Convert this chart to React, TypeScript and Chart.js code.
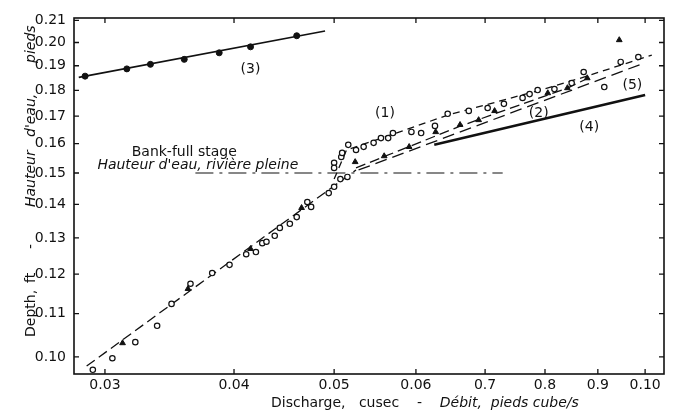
import React, { useEffect, useRef } from "react";
import { Chart, registerables } from "chart.js";

Chart.register(...registerables);

// ---- axis ticks ----
const xTicks = [0.03, 0.04, 0.05, 0.06, 0.07, 0.08, 0.09, 0.1];
const xTickLabels = ["0.03", "0.04", "0.05", "0.06", "0.7", "0.8", "0.9", "0.10"];
const yTicks = [0.1, 0.11, 0.12, 0.13, 0.14, 0.15, 0.16, 0.17, 0.18, 0.19, 0.2, 0.21];
const yTickLabels = ["0.10", "0.11", "0.12", "0.13", "0.14", "0.15", "0.16", "0.17", "0.18", "0.19", "0.20", "0.21"];

// ---- open circles ----
const circleX = [0.0292, 0.0305, 0.0321, 0.0337, 0.0348, 0.0363, 0.0381, 0.0396, 0.0411, 0.042, 0.0426, 0.043,
  0.0438, 0.0443, 0.0453, 0.046, 0.0471, 0.0475, 0.0494, 0.05, 0.0507, 0.0515, 0.05, 0.05, 0.0508, 0.0509,
  0.0516, 0.0525, 0.0534, 0.0546, 0.0555, 0.0564, 0.057, 0.0594, 0.0607, 0.0626, 0.0644, 0.0675, 0.0704,
  0.073, 0.0761, 0.0773, 0.0787, 0.0817, 0.0849, 0.0872, 0.0913, 0.0947, 0.0985];
const circleY = [0.0972, 0.0997, 0.1033, 0.1071, 0.1124, 0.1175, 0.1203, 0.1225, 0.1254, 0.126, 0.1285, 0.1289,
  0.1306, 0.1329, 0.1341, 0.1361, 0.1407, 0.1392, 0.1435, 0.1455, 0.148, 0.1487, 0.1534, 0.1517, 0.1554, 0.1568,
  0.1596, 0.1578, 0.1589, 0.1603, 0.162, 0.162, 0.1638, 0.1642, 0.1638, 0.1664, 0.1709, 0.172, 0.1731,
  0.1747, 0.177, 0.1785, 0.1801, 0.1805, 0.1829, 0.1874, 0.1813, 0.1916, 0.1937];

// ---- triangles ----
const triX = [0.0312, 0.0361, 0.0415, 0.0465, 0.0524, 0.0559, 0.0591, 0.0627, 0.0662, 0.069, 0.0715, 0.0805, 0.0841, 0.0879, 0.0944];
const triY = [0.1031, 0.1162, 0.1269, 0.1389, 0.1537, 0.1557, 0.1589, 0.1642, 0.1668, 0.1686, 0.172, 0.1789, 0.1809, 0.1849, 0.2011];

// ---- filled dots, curve (3) ----
const dotX = [0.0287, 0.0315, 0.0332, 0.0358, 0.0387, 0.0415, 0.046];
const dotY = [0.1857, 0.1887, 0.1906, 0.1927, 0.1955, 0.1981, 0.203];

// ---- fitted curves ----
const curve3X = [0.0283, 0.049];
const curve3Y = [0.1852, 0.2051];
const lowerX = [0.0288, 0.0525];
const lowerY = [0.098, 0.151];
const curve1X = [0.05, 0.0514, 0.057, 0.0644, 0.0792, 0.086, 0.1015];
const curve1Y = [0.148, 0.1578, 0.1634, 0.1704, 0.1801, 0.1845, 0.1945];
const curve2X = [0.0525, 0.0663, 0.0841, 0.0885];
const curve2Y = [0.1517, 0.1664, 0.1809, 0.1853];
const curve5X = [0.0528, 0.0996];
const curve5Y = [0.151, 0.191];
const curve4X = [0.0625, 0.1];
const curve4Y = [0.1596, 0.1781];
const bankX = [0.0367, 0.0728];
const bankY = [0.15, 0.15];

// ---- in-plot labels ----
const noteText = ["(1)", "(2)", "(3)", "(4)", "(5)", "Bank-full stage", "Hauteur d'eau, rivière pleine"];
const noteX = [0.056, 0.0789, 0.0415, 0.0883, 0.0972, 0.0358, 0.0369];
const noteY = [0.1709, 0.1712, 0.1887, 0.166, 0.1821, 0.1571, 0.1527];
const noteItalic = [false, false, false, false, false, false, true];

const FONT = "'DejaVu Sans', sans-serif";
const INK = "#111";

const pts = (xs: number[], ys: number[]) => xs.map((x, i) => ({ x, y: ys[i] }));

export default function App() {
  const ref = useRef<HTMLCanvasElement>(null);

  useEffect(() => {
    const canvas = ref.current;
    if (!canvas) return;

    const framePlugin = {
      id: "frame",
      afterDraw(chart: any) {
        const { ctx, chartArea: a, scales } = chart;
        ctx.save();
        ctx.strokeStyle = INK;
        ctx.lineWidth = 1.6;
        ctx.strokeRect(a.left, a.top, a.right - a.left, a.bottom - a.top);
        ctx.lineWidth = 1.3;
        ctx.beginPath();
        xTicks.forEach((v) => {
          const px = scales.x.getPixelForValue(v);
          ctx.moveTo(px, a.bottom);
          ctx.lineTo(px, a.bottom - 5);
          ctx.moveTo(px, a.top);
          ctx.lineTo(px, a.top + 5);
        });
        yTicks.forEach((v) => {
          const py = scales.y.getPixelForValue(v);
          ctx.moveTo(a.left, py);
          ctx.lineTo(a.left + 5, py);
          ctx.moveTo(a.right, py);
          ctx.lineTo(a.right - 5, py);
        });
        ctx.stroke();

        // in-plot notes
        ctx.fillStyle = INK;
        ctx.textAlign = "center";
        ctx.textBaseline = "middle";
        noteText.forEach((t, i) => {
          ctx.font = `${noteItalic[i] ? "italic " : ""}14px ${FONT}`;
          ctx.fillText(t, scales.x.getPixelForValue(noteX[i]), scales.y.getPixelForValue(noteY[i]));
        });

        // x-axis title
        ctx.textAlign = "left";
        const tx = a.left + 197;
        const ty = a.bottom + 29;
        ctx.font = `14px ${FONT}`;
        const normal = "Discharge,   cusec    -    ";
        ctx.fillText(normal, tx, ty);
        const w = ctx.measureText(normal).width;
        ctx.font = `italic 14px ${FONT}`;
        ctx.fillText("Débit,  pieds cube/s", tx + w, ty);

        // y-axis title (rotated)
        ctx.translate(a.left - 43, a.bottom - 37);
        ctx.rotate(-Math.PI / 2);
        const parts: [string, number, boolean][] = [
          ["Depth,", 0, false],
          ["ft", 54, false],
          ["-", 88, false],
          ["Hauteur", 130, true],
          ["d'eau,", 200, true],
          ["pieds", 274, true],
        ];
        parts.forEach(([t, off, it]) => {
          ctx.font = `${it ? "italic " : ""}14px ${FONT}`;
          ctx.fillText(t, off, 0);
        });
        ctx.restore();
      },
    };

    const lineDs = (xs: number[], ys: number[], width: number, dash: number[]) => ({
      data: pts(xs, ys),
      showLine: true,
      borderColor: INK,
      borderWidth: width,
      borderDash: dash,
      pointRadius: 0,
      fill: false,
      tension: 0,
    });

    const chart = new Chart(canvas, {
      type: "scatter",
      data: {
        datasets: [
          {
            data: pts(circleX, circleY),
            pointStyle: "circle",
            pointRadius: 2.7,
            pointBorderWidth: 1.2,
            pointBackgroundColor: "#fff",
            pointBorderColor: INK,
            showLine: false,
          },
          {
            data: pts(triX, triY),
            pointStyle: "triangle",
            pointRadius: 3.3,
            pointBorderWidth: 1,
            pointBackgroundColor: INK,
            pointBorderColor: INK,
            showLine: false,
          },
          {
            data: pts(dotX, dotY),
            pointStyle: "circle",
            pointRadius: 3,
            pointBorderWidth: 1,
            pointBackgroundColor: INK,
            pointBorderColor: INK,
            showLine: false,
          },
          lineDs(curve3X, curve3Y, 1.6, []),
          lineDs(lowerX, lowerY, 1.3, [10, 5]),
          lineDs(curve1X, curve1Y, 1.3, [7, 5]),
          lineDs(curve2X, curve2Y, 1.3, [10, 5]),
          lineDs(curve5X, curve5Y, 1.3, [12, 6]),
          lineDs(curve4X, curve4Y, 2.6, []),
          lineDs(bankX, bankY, 1.2, [18, 6, 3, 6]),
        ] as any,
      },
      options: {
        animation: false,
        responsive: false,
        maintainAspectRatio: false,
        events: [],
        layout: { padding: { top: 18, right: 11, left: 0, bottom: 0 } },
        plugins: { legend: { display: false }, tooltip: { enabled: false } },
        scales: {
          x: {
            type: "logarithmic",
            min: 0.02815,
            max: 0.1043,
            afterBuildTicks: (s: any) => {
              s.ticks = xTicks.map((v) => ({ value: v }));
            },
            afterFit: (s: any) => {
              s.height = 39;
            },
            ticks: {
              autoSkip: false,
              maxRotation: 0,
              padding: 3,
              color: INK,
              font: { family: FONT, size: 14 },
              callback: (_v: any, i: number) => xTickLabels[i],
            },
            grid: { display: false, drawTicks: false },
            border: { display: false },
          },
          y: {
            type: "logarithmic",
            min: 0.0963,
            max: 0.2111,
            afterBuildTicks: (s: any) => {
              s.ticks = yTicks.map((v) => ({ value: v }));
            },
            afterFit: (s: any) => {
              s.width = 74;
            },
            ticks: {
              autoSkip: false,
              padding: 8,
              color: INK,
              font: { family: FONT, size: 14 },
              callback: (_v: any, i: number) => yTickLabels[i],
            },
            grid: { display: false, drawTicks: false },
            border: { display: false },
          },
        },
      } as any,
      plugins: [framePlugin],
    });

    return () => chart.destroy();
  }, []);

  return (
    <div style={{ position: "fixed", left: 0, top: 0, width: 675, height: 413, background: "#fff" }}>
      <canvas ref={ref} width={675} height={413} style={{ display: "block" }} />
    </div>
  );
}
